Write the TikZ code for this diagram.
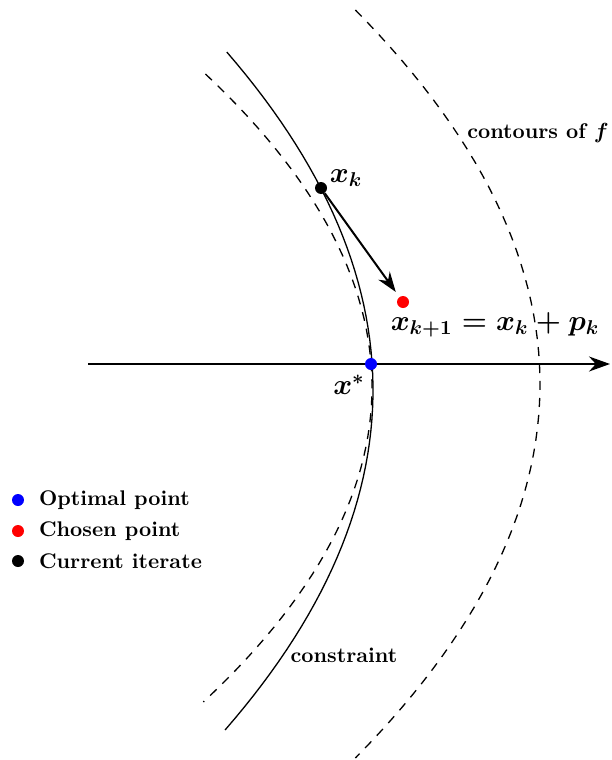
\documentclass[tikz,border=0pt]{standalone}
\usepackage{amsmath}
\usepackage{amsfonts}
\usepackage{amssymb}
\usepackage{tikz}
\usetikzlibrary{arrows.meta}

\tikzset{
    dot/.style={circle,inner sep=0pt,minimum size=6pt},
    contour/.style={dash pattern=on 4.5pt off 4pt,line width=0.65pt},
    lbl/.style={font=\fontsize{10.6}{12}\selectfont\bfseries\boldmath},
    mlbl/.style={font=\fontsize{13.7}{16}\selectfont\boldmath}
}

\begin{document}
\begin{tikzpicture}[x=0.5pt,y=-0.5pt]
    \useasboundingbox (0,0) rectangle (611,760);
    % constraint (solid) and two contours of f (dashed)
    \draw[line width=0.65pt] plot[domain=-3.38:3.40,samples=60] ({373-12.8*\x*\x},{390+100*\x});
    \draw[contour] plot[domain=-3.13:3.15,samples=60] ({372-17*\x*\x},{387+100*\x});
    \draw[contour] plot[domain=-3.74:3.74,samples=60] ({540-13.2*\x*\x},{384+100*\x});

    \coordinate (axl) at (88,364);
    \coordinate (axr) at (610,364);
    \draw[-{Stealth[length=10.5pt,width=7.5pt]},line width=1pt] (axl) -- (axr);

    \node[dot,fill=blue] (xopt) at (371,364) {};
    \node[dot,fill=black] (xk) at (321,188) {};
    \node[dot,fill=red] (xnext) at (403,302) {};
    \draw[-{Stealth[length=10pt,width=7pt]},line width=1pt,shorten >=3pt] (xk) -- (xnext);

    \node[mlbl] (lxk) at (346,178) {$x_k$};
    \node[mlbl] (lxopt) at (349,385) {$x^*$};
    \node[mlbl] (lxnext) at (495,325) {$x_{k+1} = x_k + p_k$};
    \node[lbl] (lcont) at (538,133) {contours of $f$};
    \node[lbl] (lcons) at (344,655) {constraint};

    % legend
    \node[dot,fill=blue] (kopt) at (18,500) {};
    \node[dot,fill=red] (kcho) at (18,531) {};
    \node[dot,fill=black] (kcur) at (18,561) {};
    \node[lbl,anchor=west] (topt) at (32,500) {Optimal point};
    \node[lbl,anchor=west] (tcho) at (32,531) {Chosen point};
    \node[lbl,anchor=west] (tcur) at (32,561) {Current iterate};
\end{tikzpicture}
\end{document}
